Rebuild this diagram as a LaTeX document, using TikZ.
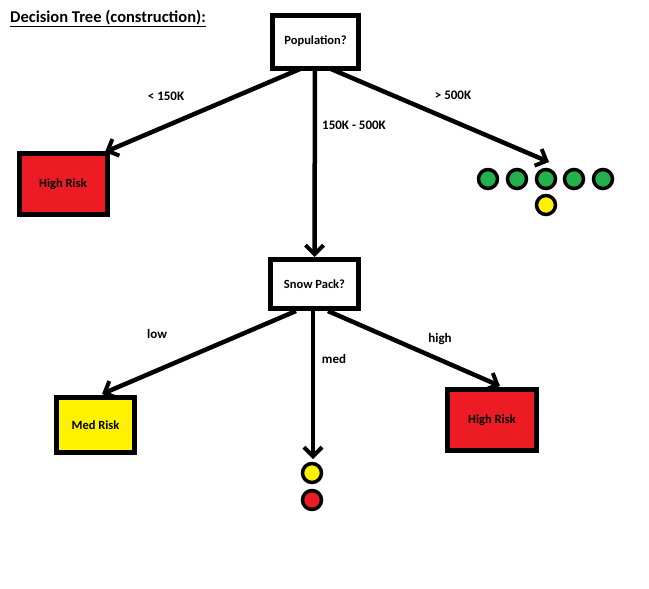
\documentclass[tikz,border=0pt]{standalone}
\usepackage{fontspec}
\setmainfont{Carlito}
\usetikzlibrary{arrows.meta}
\definecolor{pred}{HTML}{ED1C24}
\definecolor{pyellow}{HTML}{FFF200}
\definecolor{pgreen}{HTML}{22B14C}
\tikzset{
  box/.style={draw=black, line width=5pt, inner sep=0pt, font=\fontsize{12.5}{14}\selectfont\bfseries},
  conn/.style={line width=4.5pt, -{Straight Barb[length=9pt,width=18pt,line width=4pt]}},
  lbl/.style={font=\fontsize{13}{15}\selectfont\bfseries, inner sep=0pt},
  dot/.style={circle, draw=black, line width=3.5pt, minimum size=19pt, inner sep=0pt},
}
\begin{document}
\begin{tikzpicture}[x=1pt,y=-1pt]
\useasboundingbox[fill=white] (0,0) rectangle (649,589);
% title
\node[anchor=base west, inner sep=0pt, font=\fontsize{16.5}{18}\selectfont\bfseries] (title) at (10,22) {\underline{Decision Tree (construction):}};
% boxes
\node[box, minimum width=86pt, minimum height=53pt, fill=white] (pop) at (315.5,41.5) {Population?};
\node[box, minimum width=88pt, minimum height=61pt, fill=pred] (hr1) at (63,184) {High Risk};
\node[box, minimum width=88pt, minimum height=49pt, fill=white] (snow) at (314.5,284) {Snow Pack?};
\node[box, minimum width=78pt, minimum height=55pt, fill=pyellow] (med) at (95.5,425) {Med Risk};
\node[box, minimum width=89pt, minimum height=61pt, fill=pred] (hr2) at (492,420) {High Risk};
% dots
\node[dot, fill=pgreen] (g1) at (488,179) {};
\node[dot, fill=pgreen] (g2) at (517,179) {};
\node[dot, fill=pgreen] (g3) at (546,179) {};
\node[dot, fill=pgreen] (g4) at (574,179) {};
\node[dot, fill=pgreen] (g5) at (603,179) {};
\node[dot, fill=pyellow] (y1) at (546,205) {};
\node[dot, fill=pyellow] (y2) at (312,473) {};
\node[dot, fill=pred] (r1) at (312,500) {};
% connector start/end points
\coordinate (p1) at (300,69);
\coordinate (p2) at (315,69);
\coordinate (p3) at (331,69);
\coordinate (s1) at (296,311);
\coordinate (s2) at (313,311);
\coordinate (s3) at (328,311);
\coordinate (e1) at (105,152);
\coordinate (e3) at (549,162);
\coordinate (f1) at (102,394);
\coordinate (f2) at (313,459);
\coordinate (f3) at (500,386);
\draw[conn] (p1) -- (e1);
\draw[conn] (p2) -- (snow.north);
\draw[conn] (p3) -- (e3);
\draw[conn] (s1) -- (f1);
\draw[conn] (s2) -- (f2);
\draw[conn] (s3) -- (f3);
% labels
\node[lbl] (l1) at (166,96) {< 150K};
\node[lbl] (l2) at (354,125) {150K - 500K};
\node[lbl] (l3) at (453,95) {> 500K};
\node[lbl] (l4) at (157,334) {low};
\node[lbl] (l5) at (334,359) {med};
\node[lbl] (l6) at (440,339) {high};
\end{tikzpicture}
\end{document}
